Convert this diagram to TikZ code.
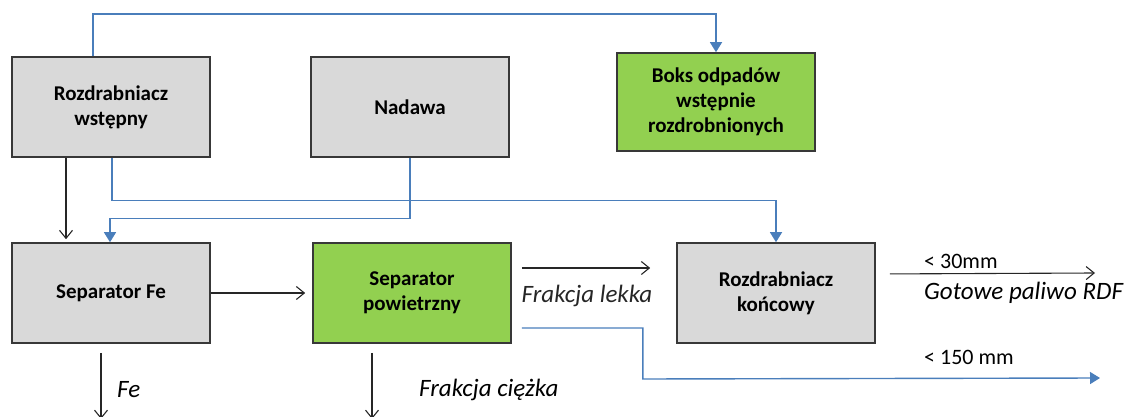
\documentclass[tikz,border=0pt]{standalone}
\usepackage{fontspec}
\setmainfont{Carlito}
\usetikzlibrary{arrows.meta,positioning}
\definecolor{boxgrey}{HTML}{D9D9D9}
\definecolor{boxgreen}{HTML}{92D050}
\definecolor{lineblue}{HTML}{4A7EBB}

\begin{document}
\begin{tikzpicture}[x=1pt,y=1pt,on grid,
    box/.style={draw=black!78,line width=1.6pt,fill=boxgrey,minimum width=198pt,minimum height=100pt,
        inner sep=0pt,align=center,font=\bfseries\fontsize{21}{25}\selectfont},
    boxg/.style={box,fill=boxgreen},
    arr/.style={-{Straight Barb[length=8pt,width=13pt]},line width=1.1pt,black!85},
    flow/.style={-{Triangle[length=10pt,width=12pt]},line width=1.4pt,lineblue},
    lbl/.style={font=\itshape\fontsize{25}{29}\selectfont,inner sep=0pt},
    txt/.style={font=\fontsize{22}{26}\selectfont,inner sep=0pt}]
    \useasboundingbox (0,0) rectangle (1128,-417);
    % top row
    \node[box] (R_1) at (111,-107) {Rozdrabniacz\\wstępny};
    \node[box] (N) [right=299pt of R_1] {Nadawa};
    \node[boxg,minimum height=98pt] (B) at (716,-102) {Boks odpadów\\wstępnie\\rozdrobnionych};
    % bottom row
    \node[box] (S_Fe) [below=186pt of R_1] {Separator Fe};
    \node[boxg] (S_P) [right=301pt of S_Fe] {Separator\\powietrzny};
    \node[box] (R_2) [right=364pt of S_P] {Rozdrabniacz\\końcowy};
    % free ends
    \coordinate (out_RDF) at (1095,-273);
    \coordinate (out_150) at (1100,-378);
    \coordinate (out_Fe) at (101,-419);
    \coordinate (out_C) at (372,-419);
    % blue lines
    \draw[flow] ([xshift=-18pt]R_1.north) -- ++(0,42) -| (B.north);
    \draw[flow] ([xshift=1pt]R_1.south) -- ++(0,-43) -| (R_2.north);
    \draw[flow] (N.south) -- ++(0,-61) -| ([xshift=-1pt]S_Fe.north);
    \draw[flow,shorten <=10pt] ([yshift=-35pt]S_P.east) -| ++(131,-51) -- (out_150);
    % black arrows
    \draw[arr,shorten >=3pt] ([xshift=-45pt]R_1.south) -- ([xshift=-45pt]R_1.south |- S_Fe.north);
    \draw[arr,shorten >=7pt] (S_Fe) -- (S_P);
    \draw[arr,shorten <=10pt,shorten >=26pt] ([yshift=25pt]S_P.east) -- ([yshift=25pt]S_P.east -| R_2.west)
        node[lbl,midway,xshift=-7pt,yshift=-28pt] (l_lekka) {Frakcja lekka};
    \draw[arr,shorten <=14pt] ([yshift=19pt]R_2.east) -- (out_RDF);
    \draw[arr,shorten <=9pt] ([xshift=-10pt]S_Fe.south) -- (out_Fe);
    \draw[arr,shorten <=9pt] ([xshift=-40pt]S_P.south) -- (out_C);
    % labels
    \node[txt,anchor=west] (l_30) at (924,-261) {< 30mm};
    \node[lbl,anchor=west] (l_RDF) at (924,-293) {Gotowe paliwo RDF};
    \node[txt,anchor=west] (l_150) at (924,-357) {< 150 mm};
    \node[lbl,anchor=west] (l_Fe) at (117,-390) {Fe};
    \node[lbl,anchor=west] (l_C) at (419,-390) {Frakcja ciężka};
\end{tikzpicture}
\end{document}
